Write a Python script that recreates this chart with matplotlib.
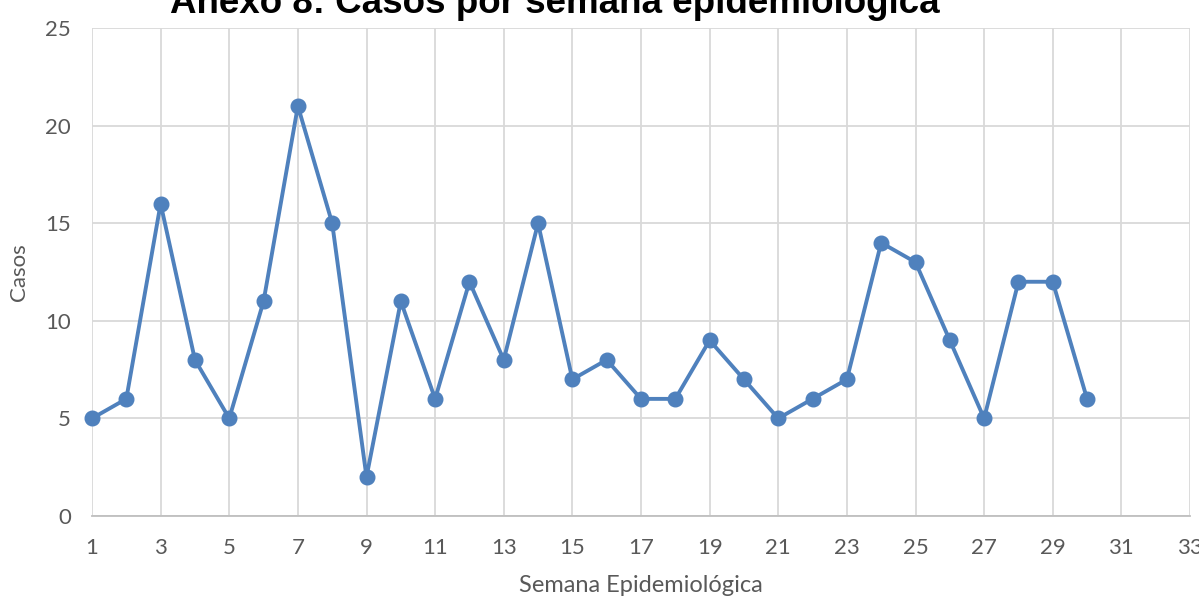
import numpy as np
import matplotlib
matplotlib.use('Agg')
import matplotlib.pyplot as plt
import matplotlib as mpl

mpl.rcParams['font.family'] = ['Lato', 'DejaVu Sans']

semana = list(range(1, 31))
casos = [5, 6, 16, 8, 5, 11, 21, 15, 2, 11, 6, 12, 8, 15, 7,
         8, 6, 6, 9, 7, 5, 6, 7, 14, 13, 9, 5, 12, 12, 6]
xticks = list(range(1, 34, 2))
yticks = [0, 5, 10, 15, 20, 25]

fig = plt.figure(figsize=(11.99, 5.99), dpi=100)
ax = fig.add_axes([92/1199, 1-516/599, (1190-92)/1199, (516-28)/599])

ax.plot(semana, casos, color='#4F81BD', lw=2.8, marker='o', ms=10.5,
        clip_on=False, zorder=3)

ax.set_xlim(1, 33)
ax.set_ylim(0, 25)
ax.set_xticks(xticks)
ax.set_yticks(yticks)
ax.grid(True, color='#D9D9D9', lw=1.3)
ax.set_axisbelow(True)
for s in ['top', 'right', 'left']:
    ax.spines[s].set_visible(False)
ax.spines['bottom'].set_color('#BFBFBF')
ax.spines['bottom'].set_linewidth(1.3)
ax.tick_params(length=0, labelsize=16, labelcolor='#595959')
ax.tick_params(axis='x', pad=16)
ax.tick_params(axis='y', pad=15)

ax.set_xlabel('Semana Epidemiológica', fontsize=17, color='#595959', labelpad=12)
ax.set_ylabel('Casos', fontsize=16, color='#595959', labelpad=12)

fig.text(555/1199, 1-12.7/599, 'Anexo 8: Casos por semana epidemiológica',
         ha='center', va='baseline', fontsize=26.5, fontweight='bold',
         family=['Liberation Sans', 'DejaVu Sans'], color='black')

fig.savefig('out.png', dpi=100)
